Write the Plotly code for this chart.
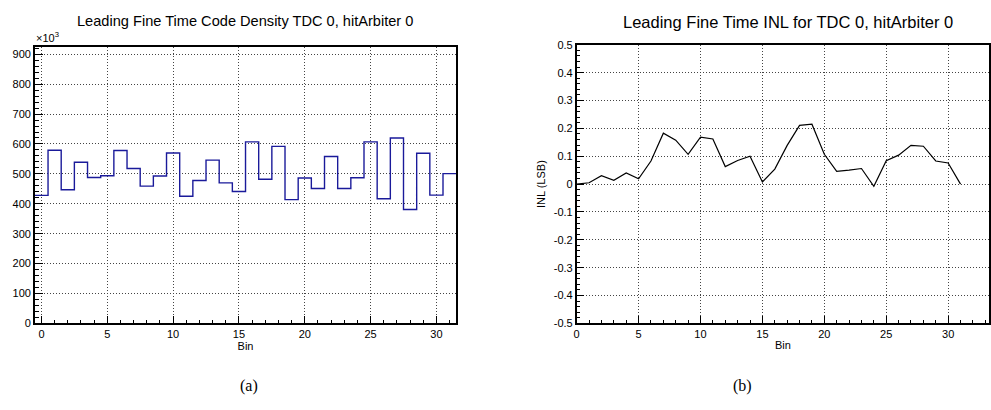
import numpy as np
import plotly.graph_objects as go

W, H = 991, 410

# ---- data ----
bins = list(range(32))
density_k = [428, 579, 447, 539, 488, 494, 578, 518, 459, 493, 570, 425, 478, 546, 470, 441,
             607, 482, 592, 414, 486, 451, 558, 451, 487, 607, 417, 620, 381, 569, 429, 501]
inl = [0.000, 0.005, 0.030, 0.014, 0.040, 0.019, 0.083, 0.183, 0.158, 0.107, 0.169, 0.162,
       0.063, 0.085, 0.100, 0.008, 0.054, 0.139, 0.211, 0.215, 0.107, 0.046, 0.050, 0.056,
       -0.008, 0.084, 0.104, 0.139, 0.136, 0.083, 0.076, 0.000]
left_title = "Leading Fine Time Code Density TDC 0, hitArbiter 0"
right_title = "Leading Fine Time INL for TDC 0, hitArbiter 0"
x_title = "Bin"
right_ytitle = "INL (LSB)"
left_yticks = [0, 100, 200, 300, 400, 500, 600, 700, 800, 900]
right_yticks = [-0.5, -0.4, -0.3, -0.2, -0.1, 0, 0.1, 0.2, 0.3, 0.4, 0.5]
right_yticktext = ["-0.5", "-0.4", "-0.3", "-0.2", "-0.1", "0", "0.1", "0.2", "0.3", "0.4", "0.5"]
captions = ["(a)", "(b)"]

FONT = "Liberation Sans, Arial, Helvetica, sans-serif"

def px_x(p):
    return p / W

def px_y(p):
    return 1 - p / H

# histogram step outline from bin edges
b = np.array(bins, dtype=float)
edges = np.append(b - 0.5, b[-1] + 0.5)
step_y = np.append(density_k, density_k[-1])

fig = go.Figure()
fig.add_trace(go.Scatter(x=edges, y=step_y, mode="lines", line=dict(color="#1a1a9a", width=1.4, shape="hv"),
                         xaxis="x", yaxis="y", showlegend=False, hoverinfo="skip"))
fig.add_trace(go.Scatter(x=bins, y=inl, mode="lines", line=dict(color="black", width=1.2),
                         xaxis="x2", yaxis="y2", showlegend=False, hoverinfo="skip"))

common_axis = dict(showline=True, linecolor="black", linewidth=1.5, mirror=True,
                   ticks="inside", tickcolor="black", tickwidth=1.2, ticklen=8,
                   showgrid=True, gridcolor="#444444", gridwidth=1, griddash="1px,2px",
                   zeroline=False, tickfont=dict(family=FONT, size=11, color="black"))

ydom = [px_y(327), px_y(42)]
fig.update_layout(
    width=W, height=H, margin=dict(l=0, r=0, t=0, b=0),
    paper_bgcolor="white", plot_bgcolor="white",
    xaxis=dict(domain=[px_x(32), px_x(455)], range=[-0.5, 31.5], dtick=5, tick0=0,
               minor=dict(ticks="inside", ticklen=4, dtick=1, tickcolor="black", showgrid=False),
               title=dict(text=x_title, font=dict(family=FONT, size=11, color="black"), standoff=2),
               anchor="y", **common_axis),
    yaxis=dict(domain=ydom, range=[0, 925], tickvals=left_yticks,
               minor=dict(ticks="inside", ticklen=4, dtick=20, tickcolor="black", showgrid=False),
               anchor="x", **common_axis),
    xaxis2=dict(domain=[px_x(576), px_x(990)], range=[0, 33.3], dtick=5, tick0=0,
                minor=dict(ticks="inside", ticklen=4, dtick=1, tickcolor="black", showgrid=False),
                title=dict(text=x_title, font=dict(family=FONT, size=11, color="black"), standoff=2),
                anchor="y2", **common_axis),
    yaxis2=dict(domain=[px_y(327), px_y(40)], range=[-0.5, 0.5], tickvals=right_yticks,
                ticktext=right_yticktext,
                minor=dict(ticks="inside", ticklen=4, dtick=0.02, tickcolor="black", showgrid=False),
                title=dict(text=right_ytitle, font=dict(family=FONT, size=11, color="black"), standoff=6),
                anchor="x2", **common_axis),
)

def note(text, x, y, size, family=FONT, xanchor="center"):
    fig.add_annotation(text=text, x=px_x(x), y=px_y(y), xref="paper", yref="paper",
                       xanchor=xanchor, yanchor="middle", showarrow=False,
                       font=dict(family=family, size=size, color="black"))

note(left_title, 243, 15, 14.6)
note(right_title, 788, 16, 16.5)
note("×10<sup>3</sup>", 31, 32, 11, xanchor="left")
SERIF = "Liberation Serif, Times New Roman, serif"
note(captions[0], 247, 391, 16, SERIF)
note(captions[1], 742, 391, 16, SERIF)

fig.write_html("out.html")
